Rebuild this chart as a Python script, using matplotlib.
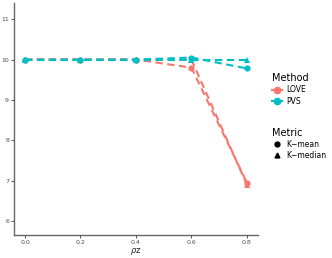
import numpy as np
import matplotlib
matplotlib.use('Agg')
import matplotlib.pyplot as plt
from matplotlib.lines import Line2D

rho = [0.0, 0.2, 0.4, 0.6, 0.8]
love_kmean = [10.0, 10.0, 10.0, 9.8, 6.95]
love_kmedian = [10.0, 10.0, 10.0, 10.0, 6.9]
pvs_kmean = [10.0, 10.0, 10.0, 10.05, 9.78]
pvs_kmedian = [10.0, 10.0, 10.0, 10.0, 10.0]

red = '#F8766D'
teal = '#00BFC4'

fig = plt.figure(figsize=(3.32, 2.58), dpi=100)
ax = fig.add_axes([0.042, 0.089, 0.735, 0.899])

series = [
    (love_kmean, red, 'o'),
    (love_kmedian, red, '^'),
    (pvs_kmean, teal, 'o'),
    (pvs_kmedian, teal, '^'),
]
for y, c, m in series:
    ax.plot(rho, y, color=c, linestyle=(0, (3.5, 2.2)), linewidth=1.5,
            marker=m, markersize=4.5, markeredgewidth=0)

ax.set_xlim(-0.04, 0.84)
ax.set_ylim(5.65, 11.4)
ax.set_xticks(rho)
ax.set_xticklabels(['0.0', '0.2', '0.4', '0.6', '0.8'])
ax.set_yticks([6, 7, 8, 9, 10, 11])
ax.tick_params(labelsize=4.5, colors='#4d4d4d', length=2, width=0.6, pad=1.5)
ax.tick_params(axis='both', color='#333333')
for s in ['top', 'right']:
    ax.spines[s].set_visible(False)
for s in ['left', 'bottom']:
    ax.spines[s].set_color('#666666')
    ax.spines[s].set_linewidth(1.0)
ax.set_xlabel(r'$\rho$z', fontsize=6, labelpad=1, color='#222222')

h1 = [Line2D([], [], color=red, marker='o', linestyle='-', linewidth=1.5, markersize=4.5),
      Line2D([], [], color=teal, marker='o', linestyle='-', linewidth=1.5, markersize=4.5)]
leg1 = fig.legend(h1, ['LOVE', 'PVS'], title='Method', loc='upper left',
                  bbox_to_anchor=(0.8, 0.745), frameon=False, fontsize=5.5,
                  title_fontsize=7, handlelength=1.2, handletextpad=0.6,
                  labelspacing=0.35, alignment='left')
h2 = [Line2D([], [], color='black', marker='o', linestyle='none', markersize=3.5),
      Line2D([], [], color='black', marker='^', linestyle='none', markersize=3.5)]
leg2 = fig.legend(h2, ['K\u2212mean', 'K\u2212median'], title='Metric', loc='upper left',
                  bbox_to_anchor=(0.8, 0.53), frameon=False, fontsize=5.5,
                  title_fontsize=7, handlelength=1.2, handletextpad=0.6,
                  labelspacing=0.25, alignment='left')

fig.savefig('out.png', dpi=100)
